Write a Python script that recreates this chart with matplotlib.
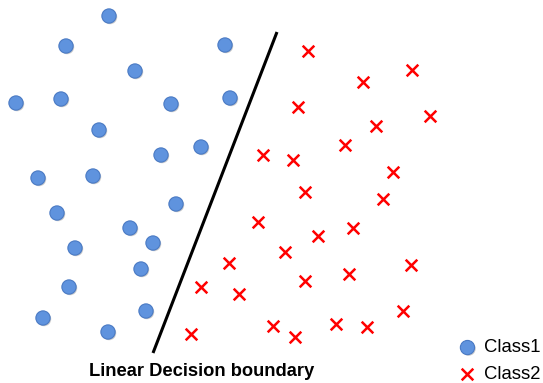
import matplotlib
matplotlib.use("Agg")
import matplotlib.pyplot as plt
import matplotlib.patheffects as pe

# Class 1 points (x, y in picture coordinates, y downward)
class1_x = [109, 66, 225, 135, 16, 61, 171, 230, 99, 161, 201, 38, 93,
            176, 57, 130, 153, 75, 141, 69, 146, 43, 108]
class1_y = [16, 46, 45, 71, 103, 99, 104, 98, 130, 155, 147, 178, 176,
            204, 213, 228, 243, 248, 269, 287, 311, 318, 332]

# Class 2 points
class2_x = [308, 363, 412, 298, 430, 376, 345, 263, 293, 393, 305, 383,
            258, 318, 353, 285, 229, 411, 201, 305, 349, 239, 403, 273,
            295, 336, 367, 191]
class2_y = [51, 82, 70, 107, 116, 126, 145, 155, 160, 172, 192, 199,
            222, 236, 228, 252, 263, 265, 287, 281, 274, 294, 311, 326,
            337, 324, 327, 334]

# Decision boundary end points
boundary_x = [277, 153]
boundary_y = [32, 353]

labels = ["Class1", "Class2"]
boundary_label = "Linear Decision boundary"

W, H = 543, 383
fig = plt.figure(figsize=(W / 100, H / 100), dpi=100)
ax = fig.add_axes([0, 0, 1, 1])
ax.set_xlim(0, W)
ax.set_ylim(H, 0)
ax.axis("off")

plt.rcParams['font.family'] = ['Liberation Sans', 'DejaVu Sans']

shadow = [pe.SimplePatchShadow(offset=(0.8, -0.8), shadow_rgbFace='#999999', alpha=0.5), pe.Normal()]

ax.plot(boundary_x, boundary_y, color='black', lw=2.2, solid_capstyle='butt')

s1 = ax.scatter(class1_x, class1_y, s=105, c='#5f93de', edgecolors='#4a7ac4',
                linewidths=0.8, zorder=3, label=labels[0])
s1.set_path_effects(shadow)
s2 = ax.scatter(class2_x, class2_y, s=70, marker='x', c='#ff0000',
                linewidths=1.8, zorder=3, label=labels[1])

ax.text(202, 371, boundary_label, ha='center', va='center', fontsize=13.2,
        fontweight='bold', color='black', family=['Liberation Sans', 'DejaVu Sans'])

leg = ax.legend(loc='upper left', bbox_to_anchor=(449 / W, 1 - 332 / H),
                frameon=False, handletextpad=0.3,
                labelspacing=0.5, borderaxespad=0, handlelength=1.2,
                prop={'family': ['Liberation Sans', 'DejaVu Sans'], 'size': 13.3})

fig.savefig("out.png", dpi=100)
